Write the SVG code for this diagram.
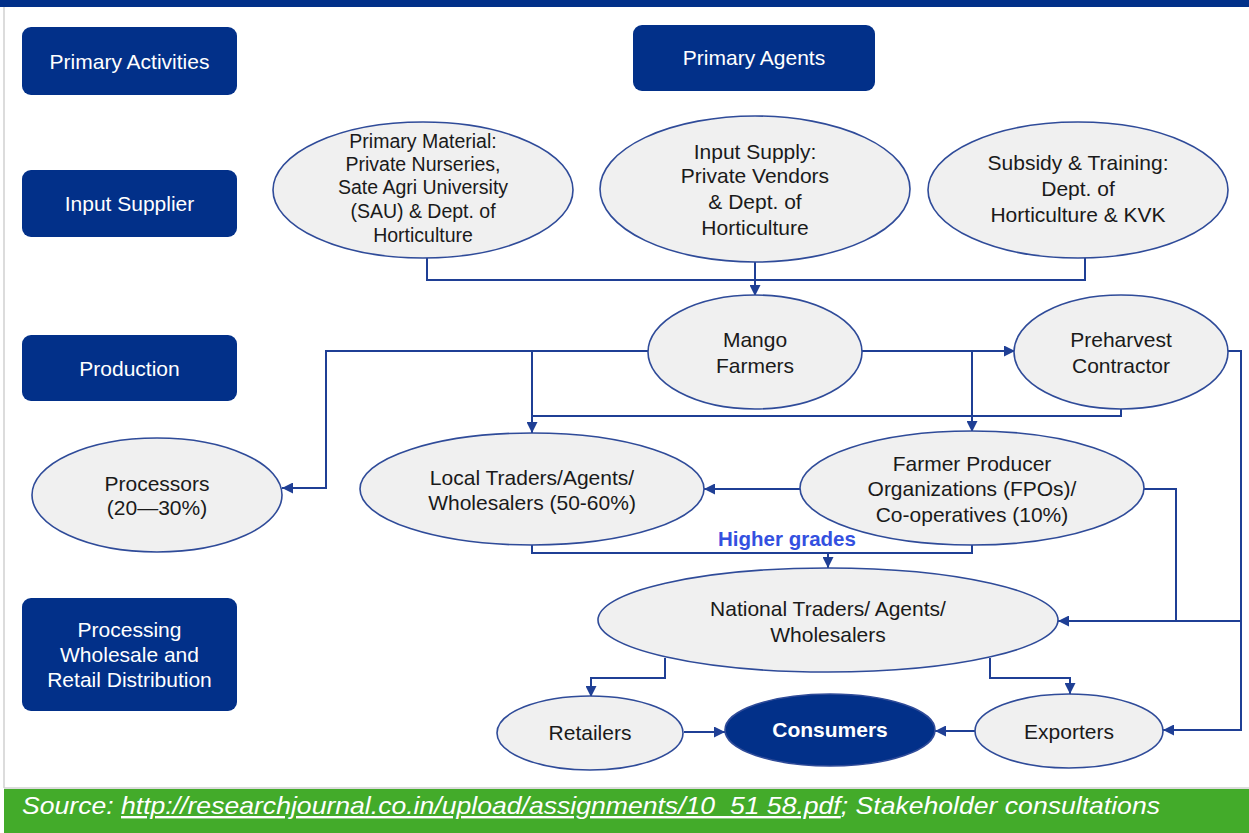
<svg xmlns="http://www.w3.org/2000/svg" width="1249" height="833" viewBox="0 0 1249 833">
<defs>
<style>
.box{fill:#023089;}
.bt{font-family:"Liberation Sans",Arial,sans-serif;font-size:21px;fill:#ffffff;text-anchor:middle;}
.el{fill:#f0f0f0;stroke:#2f4b99;stroke-width:1.6;}
.et{font-family:"Liberation Sans",Arial,sans-serif;font-size:21px;fill:#1a1a1a;text-anchor:middle;}
.pm{font-size:19.5px;}
.c{fill:none;stroke:#1f3f95;stroke-width:2;}
</style>
<marker id="ah" viewBox="0 0 10 10" refX="10" refY="5" markerWidth="11" markerHeight="11" markerUnits="userSpaceOnUse" orient="auto"><path d="M0,0 L10,5 L0,10 z" fill="#1f3f95"/></marker>
</defs>
<rect x="0" y="0" width="1249" height="833" fill="#ffffff"/>
<rect x="0" y="0" width="1249" height="7" fill="#023089"/>
<line x1="4" y1="7" x2="4" y2="788" stroke="#d0d0d0" stroke-width="1.5"/>
<line x1="4" y1="788" x2="1249" y2="788" stroke="#d0d0d0" stroke-width="1.5"/>
<rect x="4" y="789" width="1245" height="44" fill="#43ab2a"/>
<text x="22" y="814" font-family="'Liberation Sans',Arial,sans-serif" font-size="24" font-style="italic" fill="#ffffff" textLength="1138" lengthAdjust="spacingAndGlyphs">Source: <tspan text-decoration="underline">http://researchjournal.co.in/upload/assignments/10_51 58.pdf</tspan>; Stakeholder consultations</text>

<g id="primary-activities"><rect class="box" x="22" y="27" width="215" height="68" rx="9"/><text class="bt" x="129.5" y="69">Primary Activities</text></g>
<g id="input-supplier"><rect class="box" x="22" y="170" width="215" height="67" rx="9"/><text class="bt" x="129.5" y="211">Input Supplier</text></g>
<g id="production"><rect class="box" x="22" y="335" width="215" height="66" rx="9"/><text class="bt" x="129.5" y="376">Production</text></g>
<g id="processing"><rect class="box" x="22" y="598" width="215" height="113" rx="9"/><text class="bt" x="129.5" y="637">Processing</text><text class="bt" x="129.5" y="662">Wholesale and</text><text class="bt" x="129.5" y="687">Retail Distribution</text></g>
<g id="primary-agents"><rect class="box" x="633" y="25" width="242" height="66" rx="9"/><text class="bt" x="754" y="65">Primary Agents</text></g>

<g id="connectors">
<path class="c" d="M427 258 V280 H1085 V258"/>
<path class="c" d="M755 262 V296" marker-end="url(#ah)"/>
<path class="c" d="M648 351 H326 V488 H282" marker-end="url(#ah)"/>
<path class="c" d="M532 351 V433" marker-end="url(#ah)"/>
<path class="c" d="M1121 408 V416 H532"/>
<path class="c" d="M862 351 H1015" marker-end="url(#ah)"/>
<path class="c" d="M972 351 V432" marker-end="url(#ah)"/>
<path class="c" d="M1228 351 H1241 V730 H1163" marker-end="url(#ah)"/>
<path class="c" d="M1144 489 H1176 V621"/>
<path class="c" d="M1241 621 H1058" marker-end="url(#ah)"/>
<path class="c" d="M800 489 H704" marker-end="url(#ah)"/>
<path class="c" d="M532 545 V553 H972 V545"/>
<path class="c" d="M828 553 V568" marker-end="url(#ah)"/>
<path class="c" d="M665 658 V678 H591 V697" marker-end="url(#ah)"/>
<path class="c" d="M990 658 V678 H1070 V694" marker-end="url(#ah)"/>
<path class="c" d="M684 732 H725" marker-end="url(#ah)"/>
<path class="c" d="M975 731 H935" marker-end="url(#ah)"/>
</g>
<text x="787" y="546" font-family="'Liberation Sans',Arial,sans-serif" font-size="20.5" font-weight="bold" fill="#3450e0" text-anchor="middle">Higher grades</text>

<g id="primary-material"><ellipse class="el" cx="423" cy="190" rx="150" ry="68"/>
<text class="et pm" x="423" y="148">Primary Material:</text><text class="et pm" x="423" y="171">Private Nurseries,</text><text class="et pm" x="423" y="194">Sate Agri University</text><text class="et pm" x="423" y="218">(SAU) &amp; Dept. of</text><text class="et pm" x="423" y="242">Horticulture</text></g>
<g id="input-supply"><ellipse class="el" cx="755" cy="189" rx="155" ry="73"/>
<text class="et" x="755" y="159">Input Supply:</text><text class="et" x="755" y="183">Private Vendors</text><text class="et" x="755" y="209">&amp; Dept. of</text><text class="et" x="755" y="235">Horticulture</text></g>
<g id="subsidy"><ellipse class="el" cx="1078" cy="190" rx="150" ry="68"/>
<text class="et" x="1078" y="170">Subsidy &amp; Training:</text><text class="et" x="1078" y="196">Dept. of</text><text class="et" x="1078" y="222">Horticulture &amp; KVK</text></g>
<g id="mango-farmers"><ellipse class="el" cx="755" cy="352" rx="107" ry="57"/>
<text class="et" x="755" y="347">Mango</text><text class="et" x="755" y="373">Farmers</text></g>
<g id="preharvest"><ellipse class="el" cx="1121" cy="352" rx="107" ry="57"/>
<text class="et" x="1121" y="347">Preharvest</text><text class="et" x="1121" y="373">Contractor</text></g>
<g id="processors"><ellipse class="el" cx="157" cy="495" rx="125" ry="57"/>
<text class="et" x="157" y="491">Processors</text><text class="et" x="157" y="515">(20—30%)</text></g>
<g id="local-traders"><ellipse class="el" cx="532" cy="489" rx="172" ry="56"/>
<text class="et" x="532" y="485">Local Traders/Agents/</text><text class="et" x="532" y="510">Wholesalers (50-60%)</text></g>
<g id="fpo"><ellipse class="el" cx="972" cy="488" rx="172" ry="57"/>
<text class="et" x="972" y="471">Farmer Producer</text><text class="et" x="972" y="496">Organizations (FPOs)/</text><text class="et" x="972" y="522">Co-operatives (10%)</text></g>
<g id="national-traders"><ellipse class="el" cx="828" cy="620" rx="230" ry="52"/>
<text class="et" x="828" y="616">National Traders/ Agents/</text><text class="et" x="828" y="642">Wholesalers</text></g>
<g id="retailers"><ellipse class="el" cx="590" cy="733" rx="93" ry="37"/>
<text class="et" x="590" y="740">Retailers</text></g>
<g id="consumers"><ellipse cx="830" cy="730" rx="105" ry="36" fill="#023089" stroke="#2f4b99" stroke-width="1.6"/>
<text class="et" x="830" y="737" style="fill:#ffffff;font-weight:bold">Consumers</text></g>
<g id="exporters"><ellipse class="el" cx="1069" cy="731" rx="94" ry="37"/>
<text class="et" x="1069" y="739">Exporters</text></g>
</svg>
